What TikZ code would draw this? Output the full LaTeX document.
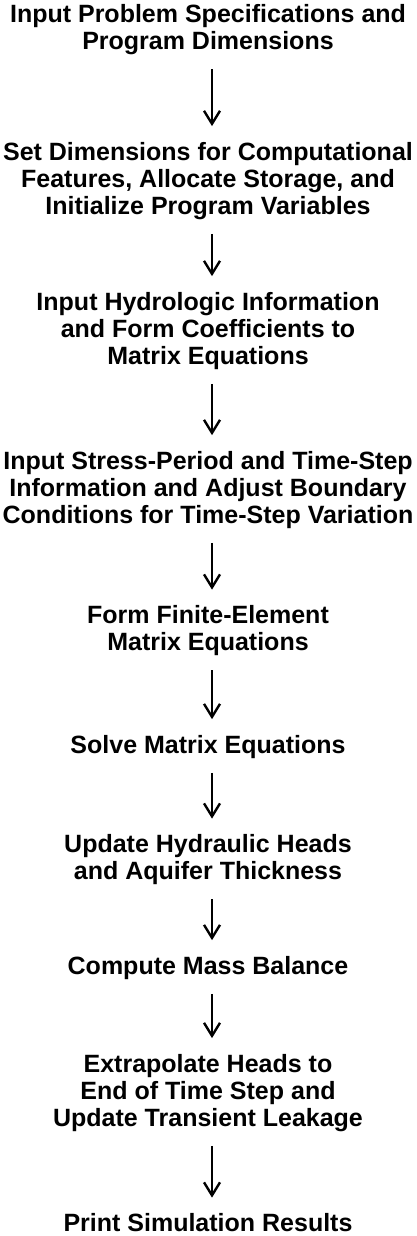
\documentclass[tikz,border=0pt]{standalone}
\usepackage{fontspec}
\setmainfont{Liberation Sans}
\newfontfamily\dfont{Liberation Sans}
\usetikzlibrary{arrows.meta}
\begin{document}
\begin{tikzpicture}[x=1pt,y=-1pt,
  block/.style={font=\dfont\bfseries\fontsize{25}{27}\selectfont, align=center, inner sep=0pt},
  arr/.style={line width=2.4pt, -{Straight Barb[length=13pt,width=16pt,line width=2.4pt]},
    shorten <=14pt, shorten >=16pt}]
\useasboundingbox (0,0) rectangle (416,1236);
\node[block] (b1) at (208,30) {Input Problem Specifications and\\Program Dimensions};
\node[block] (b2) at (208,181) {Set Dimensions for Computational\\Features, Allocate Storage, and\\Initialize Program Variables};
\node[block] (b3) at (208,331) {Input Hydrologic Information\\and Form Coefficients to\\Matrix Equations};
\node[block] (b4) at (208,490) {Input Stress-Period and Time-Step\\Information and Adjust Boundary\\Conditions for Time-Step Variation};
\node[block] (b5) at (208,631) {Form Finite-Element\\Matrix Equations};
\node[block] (b6) at (208,747) {Solve Matrix Equations};
\node[block] (b7) at (208,860) {Update Hydraulic Heads\\and Aquifer Thickness};
\node[block] (b8) at (208,968) {Compute Mass Balance};
\node[block] (b9) at (208,1093) {Extrapolate Heads to\\End of Time Step and\\Update Transient Leakage};
\node[block] (b10) at (208,1223) {Print Simulation Results};
\foreach \a/\b in {b1/b2,b2/b3,b3/b4,b4/b5,b5/b6,b6/b7,b7/b8,b8/b9,b9/b10}
  \draw[arr] ([xshift=4pt]\a.south) -- ([xshift=4pt]\b.north);
\end{tikzpicture}
\end{document}
